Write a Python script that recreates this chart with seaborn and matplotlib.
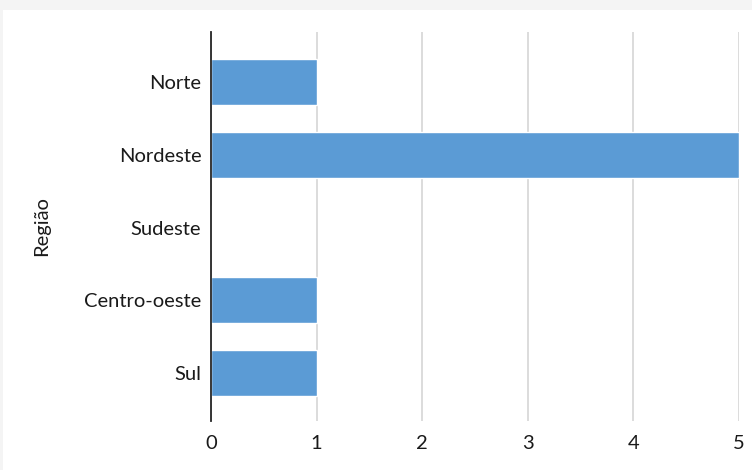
import pandas as pd
import matplotlib.pyplot as plt
import seaborn as sns
from matplotlib.patches import Rectangle

# Data
regioes = ["Norte", "Nordeste", "Sudeste", "Centro-oeste", "Sul"]
valores = [1, 5, 0, 1, 1]

df = pd.DataFrame({"Região": regioes, "Valor": valores})

sns.set_style("white")
plt.rcParams['font.family'] = ['Lato', 'DejaVu Sans']

fig = plt.figure(figsize=(7.52, 4.70), dpi=100)
fig.patch.set_facecolor("white")
# light gray border strip from the screenshot
fig.patches.append(Rectangle((0, 460 / 470), 1, 10 / 470, transform=fig.transFigure,
                             facecolor="#f4f4f4", edgecolor="none", zorder=0))
fig.patches.append(Rectangle((0, 0), 3 / 752, 1, transform=fig.transFigure,
                             facecolor="#f4f4f4", edgecolor="none", zorder=0))

ax = fig.add_axes([211 / 752, 49 / 470, 528 / 752, 389 / 470])
sns.barplot(data=df, x="Valor", y="Região", orient="h", color="#5B9BD5",
            saturation=1, width=0.63, ax=ax)

ax.set_xlim(0, 5)
ax.set_ylim(4.66, -0.69)
ax.set_xticks(range(0, 6))
ax.xaxis.grid(True, color="#d9d9d9", linewidth=1.3)
ax.set_axisbelow(True)

for s in ["top", "right", "bottom"]:
    ax.spines[s].set_visible(False)
ax.spines["left"].set_color("#262626")
ax.spines["left"].set_linewidth(1.3)
ax.spines["left"].set_zorder(5)

ax.tick_params(axis="both", length=0, labelsize=14.5, colors="#1a1a1a")
ax.tick_params(axis="y", pad=7)
ax.tick_params(axis="x", pad=10)
ax.set_xlabel("")
ax.set_ylabel("Região", fontsize=14.5, color="#1a1a1a")
ax.yaxis.set_label_coords(-0.305, 0.5)

fig.savefig("out.png", dpi=100)
